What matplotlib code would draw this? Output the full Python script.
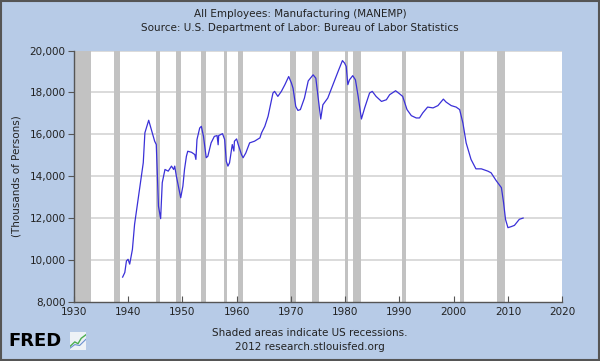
import matplotlib

matplotlib.use("Agg")
import matplotlib.pyplot as plt
from matplotlib.patches import Rectangle

# MANEMP, thousands of persons
years = [1939.0, 1939.4, 1939.7, 1940.0, 1940.3, 1940.8, 1941.2, 1941.8, 1942.2, 1942.8,
         1943.1, 1943.8, 1944.3, 1944.9, 1945.2, 1945.5, 1945.6, 1946.0, 1946.3, 1946.8,
         1947.4, 1948.0, 1948.4, 1948.6, 1948.9, 1949.4, 1949.7, 1950.1, 1950.4, 1950.75,
         1951.0, 1951.7, 1952.3, 1952.5, 1952.7, 1953.2, 1953.5, 1953.9, 1954.4, 1954.7,
         1955.3, 1955.9, 1956.4, 1956.6, 1956.7, 1957.4, 1957.8, 1958.1, 1958.4, 1958.7,
         1959.2, 1959.5, 1959.6, 1960.0, 1960.3, 1960.9, 1961.2, 1961.7, 1962.4, 1963.3,
         1964.3, 1964.6, 1965.2, 1965.8, 1966.7, 1967.0, 1967.6, 1968.25, 1968.9, 1969.6,
         1970.1, 1970.4, 1970.9, 1971.3, 1971.75, 1972.5, 1973.2, 1974.1, 1974.6, 1975.0,
         1975.5, 1975.9, 1976.8, 1977.75, 1978.7, 1979.5, 1979.9, 1980.2, 1980.5, 1980.8,
         1981.4, 1981.9, 1982.4, 1983.0, 1983.6, 1984.5, 1985.0, 1985.7, 1986.7, 1987.6,
         1988.2, 1989.3, 1990.0, 1990.6, 1991.4, 1992.2, 1993.1, 1993.7, 1994.3, 1995.2,
         1996.2, 1997.1, 1998.1, 1998.6, 1999.55, 2000.45, 2001.1, 2001.7, 2002.3, 2003.2,
         2004.1, 2005.1, 2006.3, 2006.9, 2007.8, 2008.8, 2009.2, 2009.55, 2010.0, 2010.6,
         2011.2, 2012.1, 2012.8]
employees = [9.18, 9.40, 9.95, 10.03, 9.80, 10.50, 11.70, 12.81, 13.52, 14.64,
             16.07, 16.67, 16.22, 15.67, 15.51, 13.37, 12.57, 11.97, 13.69, 14.32,
             14.24, 14.48, 14.32, 14.48, 14.00, 13.37, 12.97, 13.52, 14.32, 14.95,
             15.19, 15.14, 15.03, 14.80, 15.75, 16.30, 16.38, 15.90, 14.88, 14.95,
             15.59, 15.90, 15.94, 15.50, 15.94, 16.03, 15.75, 14.71, 14.48, 14.64,
             15.51, 15.20, 15.67, 15.78, 15.51, 15.03, 14.88, 15.11, 15.59, 15.67,
             15.83, 16.07, 16.38, 16.86, 17.97, 18.05, 17.81, 18.05, 18.37, 18.76,
             18.45, 18.20, 17.33, 17.14, 17.18, 17.73, 18.55, 18.84, 18.68, 17.81,
             16.73, 17.41, 17.73, 18.37, 19.00, 19.52, 19.40, 19.24, 18.37, 18.60,
             18.80, 18.60, 17.81, 16.73, 17.26, 17.97, 18.05, 17.81, 17.57, 17.65,
             17.89, 18.08, 17.94, 17.81, 17.18, 16.89, 16.78, 16.78, 17.02, 17.30,
             17.26, 17.37, 17.68, 17.54, 17.37, 17.30, 17.18, 16.54, 15.59, 14.80,
             14.35, 14.35, 14.24, 14.16, 13.80, 13.45, 12.73, 11.94, 11.54, 11.59,
             11.65, 11.94, 12.00]

recessions = [(1929.6, 1933.2), (1937.4, 1938.5), (1945.1, 1945.8), (1948.9, 1949.8),
              (1953.5, 1954.4), (1957.6, 1958.3), (1960.3, 1961.1), (1969.9, 1970.9),
              (1973.9, 1975.2), (1980.0, 1980.5), (1981.5, 1982.9), (1990.5, 1991.2),
              (2001.2, 2001.9), (2007.9, 2009.5)]

x_ticks = list(range(1930, 2021, 10))
y_ticks = [8, 10, 12, 14, 16, 18, 20]
y_labels = ["8,000", "10,000", "12,000", "14,000", "16,000", "18,000", "20,000"]

bg = "#b7cbe7"
fig = plt.figure(figsize=(6.0, 3.61), dpi=100)
fig.patch.set_facecolor(bg)
ax = fig.add_axes([0.123, 0.164, 0.814, 0.696])
ax.set_facecolor("white")

for start, end in recessions:
    ax.axvspan(start, end, color="#c2c2c2", lw=0, zorder=1)
for v in y_ticks[1:]:
    ax.axhline(v, color="#d4d4d4", lw=1.2, zorder=0.5)

ax.plot(years, employees, color="#3a30d8", lw=0.9, zorder=3)

ax.set_xlim(1930, 2020)
ax.set_ylim(8, 20)
ax.set_xticks(x_ticks)
ax.set_yticks(y_ticks)
ax.set_yticklabels(y_labels)
ax.tick_params(axis="x", direction="in", length=4, color="#555555",
               labelsize=7.5, labelcolor="#222222", pad=4)
ax.tick_params(axis="y", direction="out", length=4, color="#555555",
               labelsize=7.5, labelcolor="#222222", pad=2)
for side in ("top", "right"):
    ax.spines[side].set_visible(False)
for side in ("left", "bottom"):
    ax.spines[side].set_color("#555555")
    ax.spines[side].set_linewidth(1.0)
ax.set_ylabel("(Thousands of Persons)", fontsize=7.5, color="#222222", labelpad=6)

fig.text(0.5, 1 - 14 / 361, "All Employees: Manufacturing (MANEMP)",
         ha="center", va="center", fontsize=7.5, color="#222222")
fig.text(0.5, 1 - 28 / 361, "Source: U.S. Department of Labor: Bureau of Labor Statistics",
         ha="center", va="center", fontsize=7.5, color="#222222")
fig.text(310 / 600, 1 - 333 / 361, "Shaded areas indicate US recessions.",
         ha="center", va="center", fontsize=7.5, color="#222222")
fig.text(310 / 600, 1 - 347 / 361, "2012 research.stlouisfed.org",
         ha="center", va="center", fontsize=7.5, color="#222222")

# FRED logo
fig.text(8 / 600, 1 - 341 / 361, "FRED", ha="left", va="center",
         fontsize=13, fontweight="bold", color="black")
icon = fig.add_axes([70 / 600, 1 - 350 / 361, 16 / 600, 18 / 361])
icon.set_facecolor("#eef2f6")
icon.plot([0, 0.3, 0.5, 0.7, 1.0], [0.2, 0.45, 0.35, 0.65, 0.85], color="#4caf50", lw=1)
icon.plot([0, 0.3, 0.6, 1.0], [0.1, 0.3, 0.25, 0.6], color="#6a8fd0", lw=0.8)
icon.set_xlim(0, 1)
icon.set_ylim(0, 1)
icon.set_xticks([])
icon.set_yticks([])
for s in icon.spines.values():
    s.set_visible(False)

fig.patches.append(Rectangle((0.002, 0.003), 0.996, 0.994, transform=fig.transFigure,
                             fill=False, edgecolor="#555555", lw=1.5))

fig.savefig("out.png", dpi=100, facecolor=fig.get_facecolor())
